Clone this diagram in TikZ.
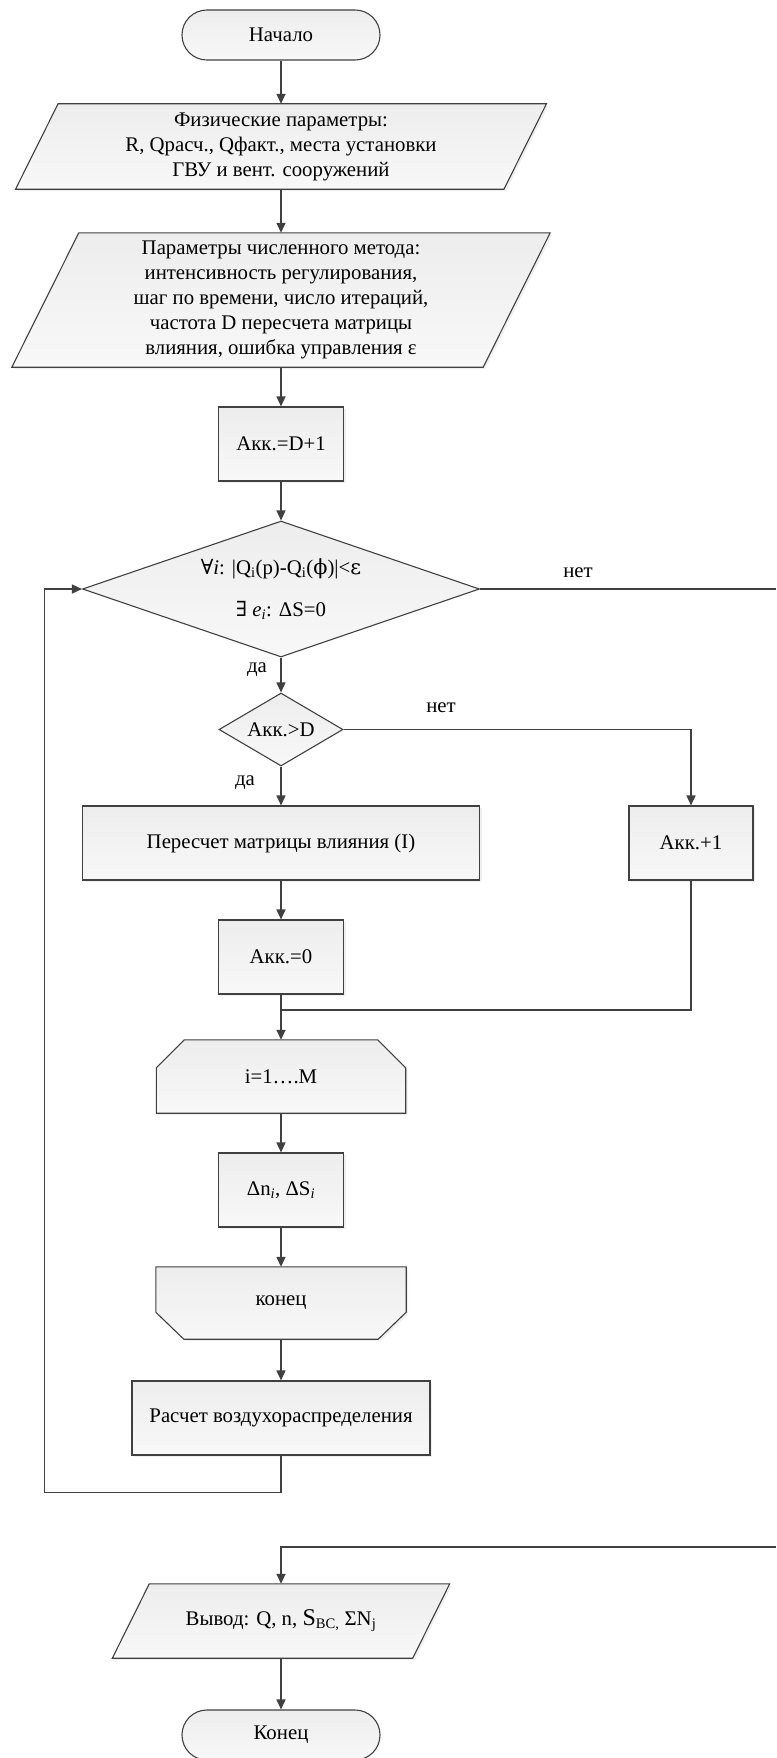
\documentclass[tikz,border=0pt]{standalone}
\usepackage{fontspec}
\setmainfont{Liberation Serif}
\newfontfamily\dvs{DejaVu Serif}
\usetikzlibrary{arrows.meta,shapes.geometric,shadows,calc}
\pgfdeclarelayer{bg}
\pgfsetlayers{bg,main}
\definecolor{lc}{HTML}{404040}
\definecolor{fa}{HTML}{EDEDED}
\definecolor{fb}{HTML}{F8F8F8}
\tikzset{
 txt/.style={font=\fontsize{20.8}{25}\selectfont, align=center, inner sep=0pt, text=black},
 shp/.style={draw=lc, line width=1.1pt, top color=fa, bottom color=fb},
 shd/.style={drop shadow={shadow xshift=2pt, shadow yshift=-2pt, fill=gray, opacity=0.12}},
 box/.style={txt, shp, shd, rectangle},
 term/.style={txt, shp, rectangle, rounded corners=24.9pt},
 dia/.style={shp, diamond, inner sep=0pt},
 frame/.style={txt, rectangle, draw=none},
 con/.style={draw=lc, line width=1.5pt},
 arr/.style={con, -{Triangle[length=10pt,width=9pt]}},
 lab/.style={txt}
}
\begin{document}
\begin{tikzpicture}[x=1pt,y=-1pt]
\useasboundingbox (0,0) rectangle (776,1758);

% nodes
\node[term, minimum width=198pt, minimum height=50pt] (st) at (281,35) {Начало};

\node[frame, minimum width=488pt, minimum height=85pt] (p1) at (281,146.5)
  {Физические параметры:\\R, Qрасч., Qфакт., места установки\\ГВУ и вент. сооружений};

\node[frame, minimum width=471pt, minimum height=134pt] (p2) at (281,300)
  {Параметры численного метода:\\интенсивность регулирования,\\шаг по времени, число итераций,\\частота D пересчета матрицы\\влияния, ошибка управления ε};

\node[box, minimum width=125pt, minimum height=74pt] (a1) at (281,444) {Акк.=D+1};

\node[dia, minimum width=397pt, minimum height=136pt] (d1) at (281,589) {};
\node[txt] (t1) at (281,569) {{\dvs ∀}\textit{i}: |Q\textsubscript{i}(p)-Q\textsubscript{i}({\dvs ϕ})|<{\dvs ε}};
\node[txt] (t2) at (281,610) {{\dvs ∃} \textit{e}\textsubscript{\textit{i}}: ΔS=0};

\node[dia, minimum width=124pt, minimum height=73pt] (d2) at (281,729.5) {};
\node[txt] (t3) at (281,729.5) {Акк.>D};

\node[box, minimum width=397pt, minimum height=74pt] (rc) at (281,843) {Пересчет матрицы влияния (I)};
\node[box, minimum width=124pt, minimum height=74pt] (ap) at (691,843) {Акк.+1};
\node[box, minimum width=125pt, minimum height=74pt] (a0) at (281,957) {Акк.=0};

\node[frame, minimum width=249pt, minimum height=73pt] (ls) at (281,1076.5) {i=1….M};
\node[box, minimum width=125pt, minimum height=74pt] (dn) at (281,1190) {Δn\textsubscript{\textit{i}}, ΔS\textsubscript{\textit{i}}};
\node[frame, minimum width=250pt, minimum height=72pt] (le) at (281,1303) {\raisebox{-3pt}{конец}};
\node[box, minimum width=298pt, minimum height=74pt] (ra) at (281,1418) {Расчет воздухораспределения};

\node[frame, minimum width=300pt, minimum height=74pt] (p3) at (281,1621)
  {Вывод: Q, n, {\fontsize{24}{24}\selectfont S}\textsubscript{BC,} ΣN\textsubscript{j}};
\node[term, minimum width=198pt, minimum height=50pt] (en) at (281,1735) {Конец};

% labels
\node[lab] (y1) at (257,670) {да};
\node[lab] (n1) at (578,573) {нет};
\node[lab] (n2) at (441,708) {нет};
\node[lab] (y2) at (245,783) {да};

% background shapes
\begin{pgfonlayer}{bg}
\path[shp, shd] ($(p1.north west)+(21.25,0)$) -- ($(p1.north east)+(21.25,0)$)
  -- ($(p1.south east)+(-21.25,0)$) -- ($(p1.south west)+(-21.25,0)$) -- cycle;
\path[shp, shd] ($(p2.north west)+(33.5,0)$) -- ($(p2.north east)+(33.5,0)$)
  -- ($(p2.south east)+(-33.5,0)$) -- ($(p2.south west)+(-33.5,0)$) -- cycle;
\path[shp, shd] ($(p3.north west)+(18.5,0)$) -- ($(p3.north east)+(18.5,0)$)
  -- ($(p3.south east)+(-18.5,0)$) -- ($(p3.south west)+(-18.5,0)$) -- cycle;
\path[shp, shd] (ls.south west) -- ($(ls.north west)+(0,28)$) -- ($(ls.north west)+(28,0)$)
  -- ($(ls.north east)+(-28,0)$) -- ($(ls.north east)+(0,28)$) -- (ls.south east) -- cycle;
\path[shp, shd] (le.north west) -- (le.north east) -- ($(le.south east)+(0,-27)$)
  -- ($(le.south east)+(-28,0)$) -- ($(le.south west)+(28,0)$) -- ($(le.south west)+(0,-27)$) -- cycle;
\end{pgfonlayer}

% coordinates
\coordinate (ex1) at (776,589);
\coordinate (ex2) at (776,1547);
\coordinate (mg) at (281,1010);
\coordinate (lp) at (44.5,1492.5);

% connectors
\draw[arr] (st.south) -- (p1.north);
\draw[arr] (p1.south) -- (p2.north);
\draw[arr] (p2.south) -- (a1.north);
\draw[arr] (a1.south) -- (d1.north);
\draw[arr] (d1.south) -- (d2.north);
\draw[con] (d1.east) -- (ex1);
\draw[arr] (d2.east) -| (ap.north);
\draw[arr] (d2.south) -- (rc.north);
\draw[arr] (rc.south) -- (a0.north);
\draw[arr] (a0.south) -- (ls.north);
\draw[con] (ap.south) |- (mg);
\draw[arr] (ls.south) -- (dn.north);
\draw[arr] (dn.south) -- (le.north);
\draw[arr] (le.south) -- (ra.north);
\draw[arr] (ra.south) |- (lp) |- (d1.west);
\draw[arr] (ex2) -| (p3.north);
\draw[arr] (p3.south) -- (en.north);
\end{tikzpicture}
\end{document}
